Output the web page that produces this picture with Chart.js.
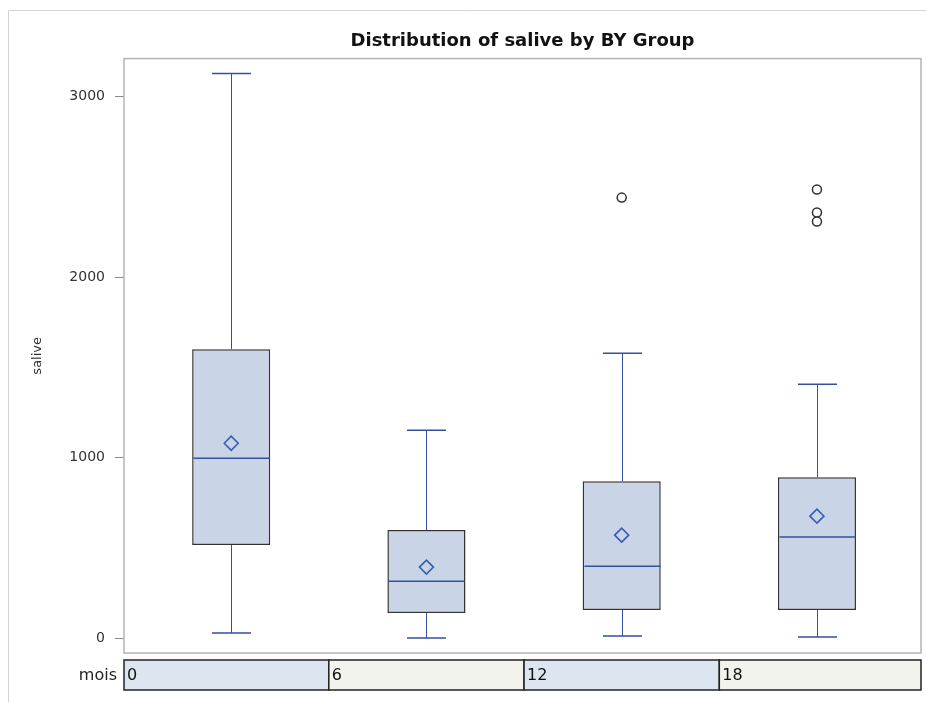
<!DOCTYPE html>
<html>
<head>
<meta charset="utf-8">
<title>Distribution of salive by BY Group</title>
<script src="https://cdn.jsdelivr.net/npm/chart.js@4.4.1/dist/chart.umd.min.js"></script>
<style>
  html, body { margin: 0; padding: 0; background: #fff; overflow: hidden; }
  #wrap { position: relative; width: 926px; height: 702px; }
  #box { display: block; }
</style>
</head>
<body>
<div id="wrap"><canvas id="box"></canvas></div>
<script>
'use strict';

// ── Data (salive by mois) ─────────────────────────────────────────────────
const groups = ['0', '6', '12', '18'];
const whiskerLow = [28, 0, 11, 5];
const q1 = [515, 138, 155, 155];
const median = [996, 315, 398, 559];
const q3 = [1600, 598, 869, 891];
const whiskerHigh = [3127, 1151, 1577, 1406];
const means = [1079, 393, 570, 675];
const outliers = [[], [], [2440], [2485, 2357, 2308]];
const yTicks = [0, 1000, 2000, 3000];

const FONT = '"DejaVu Sans", Verdana, sans-serif';
const BLUE = '#3350a3';

// whiskers, caps and medians drawn with the chart's own scales
const boxExtras = {
    id: 'boxExtras',
    afterDatasetsDraw(chart) {
        const { ctx, scales: { x, y } } = chart;
        const meta = chart.getDatasetMeta(0);
        ctx.save();
        groups.forEach((g, i) => {
            const bar = meta.data[i];
            const half = bar.width / 2;
            const cx = Math.round(x.getPixelForValue(i)) + 0.5;
            const yLo = y.getPixelForValue(whiskerLow[i]);
            const yQ1 = y.getPixelForValue(q1[i]);
            const yQ3 = y.getPixelForValue(q3[i]);
            const yHi = y.getPixelForValue(whiskerHigh[i]);
            const yMed = y.getPixelForValue(median[i]);
            ctx.strokeStyle = BLUE;
            ctx.lineWidth = 1;
            ctx.beginPath();
            ctx.moveTo(cx, yQ3); ctx.lineTo(cx, yHi);
            ctx.moveTo(cx, yQ1); ctx.lineTo(cx, yLo);
            ctx.stroke();
            ctx.lineWidth = 1.5;
            ctx.beginPath();
            ctx.moveTo(cx - half / 2, yHi); ctx.lineTo(cx + half / 2, yHi);
            ctx.moveTo(cx - half / 2, yLo); ctx.lineTo(cx + half / 2, yLo);
            ctx.moveTo(cx - half + 1, yMed); ctx.lineTo(cx + half - 1, yMed);
            ctx.stroke();
        });
        ctx.restore();
    },
};

// outer frame, plot frame and the "mois" strip under the plot
const frameAndTable = {
    id: 'frameAndTable',
    beforeDraw(chart) {
        const ctx = chart.ctx;
        ctx.save();
        ctx.strokeStyle = '#d4d4d4';
        ctx.lineWidth = 1;
        ctx.beginPath();
        ctx.moveTo(8.5, 702); ctx.lineTo(8.5, 10.5); ctx.lineTo(926, 10.5);
        ctx.stroke();
        ctx.restore();
    },
    afterDraw(chart) {
        const { ctx, chartArea: a, scales: { x } } = chart;
        ctx.save();
        ctx.strokeStyle = '#b4b4b4';
        ctx.lineWidth = 1.5;
        ctx.strokeRect(a.left, a.top, a.right - a.left, a.bottom - a.top);

        const top = a.bottom + 7, h = 30;
        const fills = ['#dde5f0', '#f3f3ee'];
        const last = groups.length - 1;
        ctx.font = '16px ' + FONT;
        ctx.textBaseline = 'middle';
        groups.forEach((g, i) => {
            const x0 = i === 0 ? a.left : x.getPixelForValue(i - 0.5);
            const x1 = i === last ? a.right : x.getPixelForValue(i + 0.5);
            ctx.fillStyle = fills[i % 2];
            ctx.fillRect(x0, top, x1 - x0, h);
            ctx.strokeStyle = '#222';
            ctx.lineWidth = 1.5;
            ctx.strokeRect(x0, top, x1 - x0, h);
            ctx.fillStyle = '#111';
            ctx.textAlign = 'left';
            ctx.fillText(g, x0 + 3, top + h / 2 + 1);
        });
        ctx.fillStyle = '#222';
        ctx.textAlign = 'right';
        ctx.fillText('mois', a.left - 7, top + h / 2 + 1);
        ctx.restore();
    },
};

new Chart(document.getElementById('box'), {
    data: {
        datasets: [
            {
                type: 'bar',
                label: 'box',
                data: groups.map((g, i) => ({ x: i, y: [q1[i], q3[i]] })),
                backgroundColor: '#c9d4e6',
                borderColor: '#333',
                borderWidth: 1.5,
                borderSkipped: false,
                barPercentage: 0.4,
                categoryPercentage: 1,
                order: 3,
            },
            {
                type: 'scatter',
                label: 'mean',
                data: groups.map((g, i) => ({ x: i, y: means[i] })),
                pointStyle: 'rectRot',
                radius: 7,
                borderColor: '#3a5cb4',
                borderWidth: 1.6,
                backgroundColor: 'rgba(0,0,0,0)',
                order: 1,
            },
            {
                type: 'scatter',
                label: 'outliers',
                data: outliers.flatMap((vals, i) => vals.map(v => ({ x: i, y: v }))),
                pointStyle: 'circle',
                radius: 4.5,
                borderColor: '#333',
                borderWidth: 1.5,
                backgroundColor: '#fff',
                order: 0,
            },
        ],
    },
    options: {
        responsive: true,
        maintainAspectRatio: false,
        animation: false,
        layout: { autoPadding: false, padding: { left: 0, right: 5, top: 0, bottom: 49 } },
        scales: {
            x: {
                type: 'linear',
                display: false,
                offset: false,
                min: -0.549,
                max: 3.533,
                afterBuildTicks: s => { s.ticks = groups.map((g, i) => ({ value: i })); },
            },
            y: {
                min: -83,
                max: 3210,
                afterBuildTicks: s => { s.ticks = yTicks.map(v => ({ value: v })); },
                afterFit: s => { s.width = 124; },
                grid: { drawOnChartArea: false, tickLength: 9, color: '#888' },
                border: { display: false },
                ticks: {
                    padding: 10,
                    color: '#333',
                    font: { family: FONT, size: 14 },
                    callback: v => String(v),
                },
                title: {
                    display: true,
                    text: 'salive',
                    color: '#333',
                    font: { family: FONT, size: 13 },
                    padding: { top: 30, bottom: 0 },
                },
            },
        },
        plugins: {
            legend: { display: false },
            tooltip: { enabled: false },
            title: {
                display: true,
                fullSize: false,
                text: 'Distribution of salive by BY Group',
                color: '#111',
                font: { family: FONT, size: 18, weight: 'bold' },
                padding: { top: 31, bottom: 6 },
            },
        },
    },
    plugins: [boxExtras, frameAndTable],
});
</script>
</body>
</html>
